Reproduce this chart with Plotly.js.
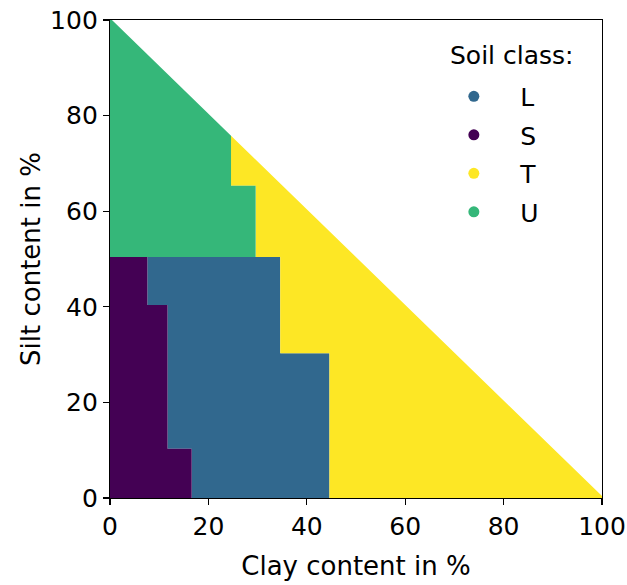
<!DOCTYPE html>
<html>
<head>
<meta charset="utf-8">
<script src="https://cdn.plot.ly/plotly-3.0.1.min.js"></script>
<style>html,body{margin:0;padding:0;background:#fff}#chart{width:627px;height:585px}</style>
</head>
<body>
<div id="chart"></div>
<script>
// Soil classes and their colours
const classes = ["L", "S", "T", "U"];
const colors = ["#31688e", "#440154", "#fde725", "#35b779"];

// Region outlines (clay %, silt %)
const clayL = [16.6, 44.6, 44.6, 34.6, 34.6, 7.6, 7.6, 11.7, 11.7, 16.6];
const siltL = [0, 0, 30.3, 30.3, 50.4, 50.4, 40.4, 40.4, 10.3, 10.3];
const clayS = [0, 16.6, 16.6, 11.7, 11.7, 7.6, 7.6, 0];
const siltS = [0, 0, 10.3, 10.3, 40.4, 40.4, 50.4, 50.4];
const clayT = [44.6, 100.4, 24.6, 24.6, 29.6, 29.6, 34.6, 34.6, 44.6];
const siltT = [0, 0, 75.8, 65.3, 65.3, 50.4, 50.4, 30.3, 30.3];
const clayU = [0, 29.6, 29.6, 24.6, 24.6, 0];
const siltU = [50.4, 50.4, 65.3, 65.3, 75.8, 100.4];

const xs = [clayL, clayS, clayT, clayU];
const ys = [siltL, siltS, siltT, siltU];

const xTicks = [0, 20, 40, 60, 80, 100];
const yTicks = [0, 20, 40, 60, 80, 100];

const font = "DejaVu Sans, sans-serif";
const traces = [];
for (let i = 0; i < classes.length; i++) {
  traces.push({
    type: "scatter", mode: "lines", x: xs[i], y: ys[i],
    fill: "toself", fillcolor: colors[i],
    line: {width: 0, color: colors[i]},
    hoverinfo: "skip", showlegend: false
  });
}
for (let i = 0; i < classes.length; i++) {
  traces.push({
    type: "scatter", mode: "markers", x: [null], y: [null],
    name: classes[i], legendgroup: classes[i],
    marker: {color: colors[i], size: 11, symbol: "circle"},
    showlegend: true
  });
}

const layout = {
  width: 627, height: 585,
  margin: {l: 110, r: 25, t: 20, b: 87},
  paper_bgcolor: "#fff", plot_bgcolor: "#fff",
  font: {family: font, size: 25, color: "#000"},
  xaxis: {
    range: [0, 100], tickvals: xTicks, ticktext: xTicks.map(String),
    ticks: "outside", ticklen: 6, tickwidth: 1.2, tickcolor: "#000",
    showgrid: false, zeroline: false, showline: true, linecolor: "#000", linewidth: 1.2,
    mirror: true, tickfont: {size: 25},
    title: {text: "Clay content in %", font: {size: 26}, standoff: 16}
  },
  yaxis: {
    range: [0, 100], tickvals: yTicks, ticktext: yTicks.map(String),
    ticks: "outside", ticklen: 6, tickwidth: 1.2, tickcolor: "#000",
    showgrid: false, zeroline: false, showline: true, linecolor: "#000", linewidth: 1.2,
    mirror: true, tickfont: {size: 25},
    title: {text: "Silt content in %", font: {size: 26}, standoff: 2}
  },
  legend: {
    x: 0.645, y: 0.888, xanchor: "left", yanchor: "top",
    bgcolor: "rgba(0,0,0,0)", borderwidth: 0,
    font: {size: 25}, itemwidth: 83, traceorder: "grouped", tracegroupgap: 3
  },
  annotations: [{
    text: "Soil class:", xref: "paper", yref: "paper", x: 0.817, y: 0.9266,
    xanchor: "center", yanchor: "middle", showarrow: false, font: {size: 25}
  }],
  showlegend: true
};

Plotly.newPlot("chart", traces, layout, {staticPlot: true, displayModeBar: false});
</script>
</body>
</html>
